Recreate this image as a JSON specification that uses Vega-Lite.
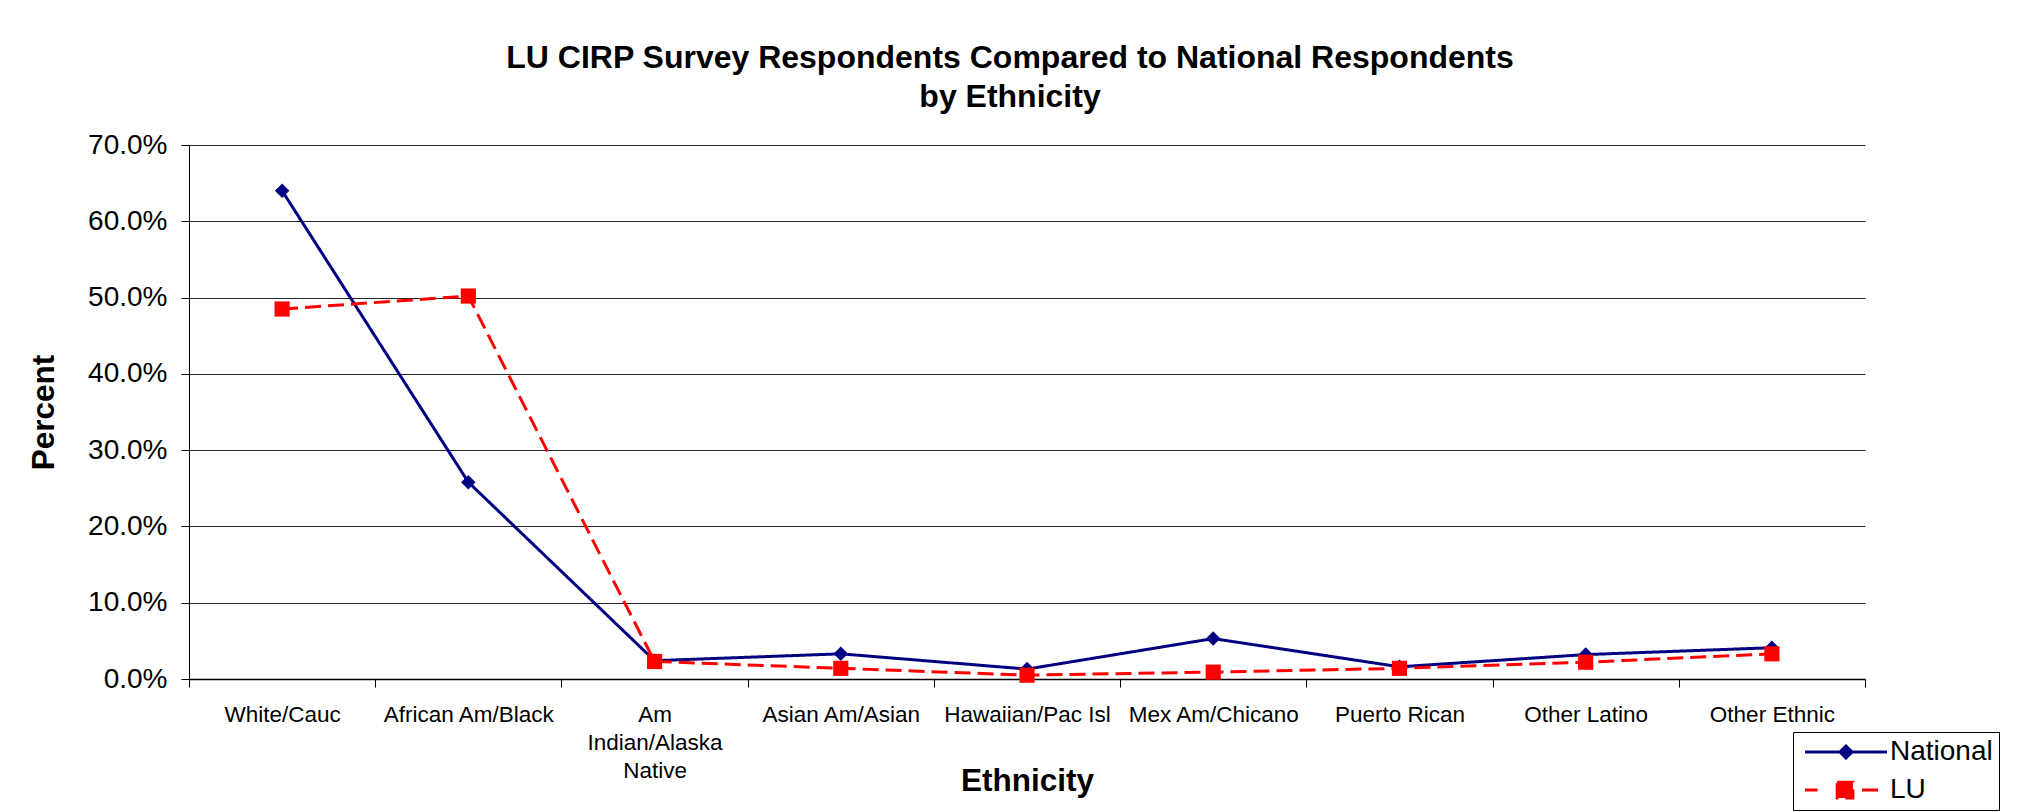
{
  "$schema": "https://vega.github.io/schema/vega-lite/v6.json",
  "width": 1676,
  "height": 534,
  "autosize": {"type": "none"},
  "padding": {"left": 189, "top": 145, "right": 156, "bottom": 133},
  "background": "white",
  "title": {
    "text": ["LU CIRP Survey Respondents Compared to National Respondents", "by Ethnicity"],
    "font": "Liberation Sans",
    "fontSize": 32,
    "fontWeight": "bold",
    "color": "black",
    "lineHeight": 39,
    "anchor": "middle",
    "frame": "group",
    "baseline": "alphabetic",
    "dx": -17,
    "offset": -8
  },
  "data": {
    "values": [
      {"ethnicity": "White/Cauc", "series": "National", "percent": 0.640},
      {"ethnicity": "African Am/Black", "series": "National", "percent": 0.258},
      {"ethnicity": "Am Indian/Alaska Native", "series": "National", "percent": 0.024},
      {"ethnicity": "Asian Am/Asian", "series": "National", "percent": 0.033},
      {"ethnicity": "Hawaiian/Pac Isl", "series": "National", "percent": 0.013},
      {"ethnicity": "Mex Am/Chicano", "series": "National", "percent": 0.053},
      {"ethnicity": "Puerto Rican", "series": "National", "percent": 0.016},
      {"ethnicity": "Other Latino", "series": "National", "percent": 0.032},
      {"ethnicity": "Other Ethnic", "series": "National", "percent": 0.041},
      {"ethnicity": "White/Cauc", "series": "LU", "percent": 0.485},
      {"ethnicity": "African Am/Black", "series": "LU", "percent": 0.502},
      {"ethnicity": "Am Indian/Alaska Native", "series": "LU", "percent": 0.023},
      {"ethnicity": "Asian Am/Asian", "series": "LU", "percent": 0.014},
      {"ethnicity": "Hawaiian/Pac Isl", "series": "LU", "percent": 0.005},
      {"ethnicity": "Mex Am/Chicano", "series": "LU", "percent": 0.009},
      {"ethnicity": "Puerto Rican", "series": "LU", "percent": 0.014},
      {"ethnicity": "Other Latino", "series": "LU", "percent": 0.022},
      {"ethnicity": "Other Ethnic", "series": "LU", "percent": 0.033}
    ]
  },
  "encoding": {
    "x": {
      "field": "ethnicity",
      "type": "nominal",
      "sort": null,
      "scale": {"type": "band", "paddingInner": 0, "paddingOuter": 0},
      "axis": {
        "title": "Ethnicity",
        "titleFont": "Liberation Sans",
        "titleFontSize": 31.5,
        "titleFontWeight": "bold",
        "titleColor": "black",
        "titleBaseline": "alphabetic",
        "titleY": 111,
        "labelAngle": 0,
        "labelFont": "Liberation Sans",
        "labelFontSize": 22.5,
        "labelColor": "black",
        "labelBaseline": "alphabetic",
        "labelPadding": 34,
        "labelLineHeight": 28,
        "labelLimit": 0,
        "labelExpr": "datum.value == 'Am Indian/Alaska Native' ? ['Am', 'Indian/Alaska', 'Native'] : datum.value",
        "tickBand": "extent",
        "tickSize": 8,
        "tickColor": "black",
        "domainColor": "black",
        "domainWidth": 1.5,
        "grid": false
      }
    },
    "y": {
      "field": "percent",
      "type": "quantitative",
      "scale": {"domain": [0, 0.7], "nice": false},
      "axis": {
        "title": "Percent",
        "titleFont": "Liberation Sans",
        "titleFontSize": 31.5,
        "titleFontWeight": "bold",
        "titleColor": "black",
        "titleAngle": -90,
        "titleAlign": "center",
        "titleBaseline": "alphabetic",
        "titleX": -136,
        "titleY": 267,
        "values": [0, 0.1, 0.2, 0.3, 0.4, 0.5, 0.6, 0.7],
        "format": ".1%",
        "labelFont": "Liberation Sans",
        "labelFontSize": 28,
        "labelColor": "black",
        "labelPadding": 14,
        "tickSize": 8,
        "tickColor": "black",
        "domainColor": "black",
        "grid": true,
        "gridColor": "black",
        "gridWidth": 1,
        "gridOpacity": 0.85
      }
    },
    "color": {
      "field": "series",
      "type": "nominal",
      "scale": {"domain": ["National", "LU"], "range": ["#000080", "#ff0000"]},
      "legend": {
        "title": null,
        "orient": "none",
        "legendX": 1604,
        "legendY": 587,
        "padding": 6,
        "strokeColor": "black",
        "fillColor": "white",
        "labelFont": "Liberation Sans",
        "labelFontSize": 28,
        "labelColor": "black",
        "labelOffset": 63,
        "rowPadding": 10,
        "symbolSize": 225,
        "symbolStrokeWidth": 3,
        "symbolOpacity": 1,
        "labelExpr": "datum.label + '  '"
      }
    }
  },
  "layer": [
    {
      "transform": [{"filter": "false"}],
      "mark": {"type": "point", "filled": false, "opacity": 1, "size": 225, "strokeWidth": 3},
      "encoding": {
        "shape": {
          "field": "series",
          "type": "nominal",
          "scale": {"domain": ["National", "LU"], "range": ["M-1.07,0L9.87,0M3.6,0L4.4,-0.8L5.2,0L4.4,0.8ZM3.95,0L4.4,-0.45L4.85,0L4.4,0.45ZM4.25,0L4.4,-0.15L4.55,0L4.4,0.15Z", "M-1.07,0L0.6,0M6.53,0L8.93,0M3.22,-1.05L5.32,-1.05L5.32,1.05L3.22,1.05ZM3.62,-0.65L4.92,-0.65L4.92,0.65L3.62,0.65ZM4.02,-0.25L4.52,-0.25L4.52,0.25L4.02,0.25Z"]},
          "legend": {
            "title": null,
            "orient": "none",
            "legendX": 1604,
            "legendY": 587,
            "padding": 6,
            "strokeColor": "black",
            "fillColor": "white",
            "labelFont": "Liberation Sans",
            "labelFontSize": 28,
            "labelColor": "black",
            "labelOffset": 63,
            "rowPadding": 10,
            "symbolSize": 225,
            "symbolStrokeWidth": 3,
            "symbolOpacity": 1,
            "labelExpr": "datum.label + '  '"
          }
        }
      }
    },
    {
      "mark": {"type": "line", "strokeWidth": 3},
      "encoding": {
        "strokeDash": {
          "field": "series",
          "type": "nominal",
          "scale": {"domain": ["National", "LU"], "range": [[1, 0], [16, 7]]},
          "legend": null
        }
      }
    },
    {
      "transform": [{"filter": "datum.series == 'National'"}],
      "mark": {"type": "point", "filled": true, "opacity": 1, "size": 210, "shape": "diamond"}
    },
    {
      "transform": [{"filter": "datum.series == 'LU'"}],
      "mark": {"type": "point", "filled": true, "opacity": 1, "size": 230, "shape": "square"}
    }
  ],
  "config": {
    "view": {"stroke": null},
    "font": "Liberation Sans"
  }
}
